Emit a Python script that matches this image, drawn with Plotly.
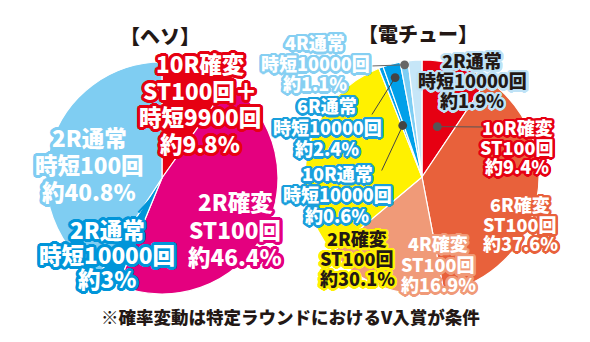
import math
import plotly.graph_objects as go

# ---------------- data ----------------
heso_labels = ["10R確変 ST100回＋時短9900回", "2R確変 ST100回", "2R通常 時短10000回", "2R通常 時短100回"]
heso_values = [9.8, 46.4, 3.0, 40.8]
heso_colors = ["#e60012", "#e4007f", "#0095d9", "#7fcdf2"]

den_labels = ["10R確変 ST100回", "6R確変 ST100回", "4R確変 ST100回", "2R確変 ST100回",
              "10R通常 時短10000回", "6R通常 時短10000回", "4R通常 時短10000回", "2R通常 時短10000回"]
den_values = [9.4, 37.6, 16.9, 30.1, 0.6, 2.4, 1.1, 1.9]
den_colors = ["#e60012", "#e8613b", "#f09a78", "#fff100",
              "#00a0e9", "#00a0e9", "#7ecef4", "#c6e6f8"]

title_heso = "【ヘソ】"
title_den = "【電チュー】"
footnote = "※確率変動は特定ラウンドにおけるV入賞が条件"

# text label lines
heso_text = [
    ["10R確変", "ST100回＋", "時短9900回", "約9.8%"],
    ["2R確変", "ST100回", "約46.4%"],
    ["2R通常", "時短10000回", "約3%"],
    ["2R通常", "時短100回", "約40.8%"],
]
den_text = [
    ["10R確変", "ST100回", "約9.4%"],
    ["6R確変", "ST100回", "約37.6%"],
    ["4R確変", "ST100回", "約16.9%"],
    ["2R確変", "ST100回", "約30.1%"],
    ["10R通常", "時短10000回", "約0.6%"],
    ["6R通常", "時短10000回", "約2.4%"],
    ["4R通常", "時短10000回", "約1.1%"],
    ["2R通常", "時短10000回", "約1.9%"],
]

W, H = 590, 342
FONT = "Noto Sans CJK JP, Noto Sans, sans-serif"
DARK = "#231815"
WEIGHT = 900

# pie geometry (pixels)
HC, HR = (162, 178), 116
DC, DR = (422, 177), 117


def dom(c, r):
    return dict(x=[(c[0] - r) / W, (c[0] + r) / W],
                y=[(H - c[1] - r) / H, (H - c[1] + r) / H])


fig = go.Figure()
fig.add_trace(go.Pie(values=heso_values, labels=heso_labels, sort=False, direction="clockwise",
                     rotation=0, marker=dict(colors=heso_colors, line=dict(color="white", width=1.2)),
                     textinfo="none", hoverinfo="label+percent", domain=dom(HC, HR), showlegend=False))
fig.add_trace(go.Pie(values=den_values, labels=den_labels, sort=False, direction="clockwise",
                     rotation=0, marker=dict(colors=den_colors, line=dict(color="white", width=1.2)),
                     textinfo="none", hoverinfo="label+percent", domain=dom(DC, DR), showlegend=False))

# hidden pixel axes for annotations
fig.add_trace(go.Scatter(x=[0, W], y=[0, H], mode="markers", marker=dict(opacity=0), hoverinfo="skip",
                         showlegend=False))


def outline(c, r):
    parts = []
    n = 20
    for k in range(n):
        a = 2 * math.pi * k / n
        parts.append(f"{r*math.cos(a):.2f}px {r*math.sin(a):.2f}px 0 {c}")
    for k in range(10):
        a = 2 * math.pi * k / 10
        parts.append(f"{r*0.55*math.cos(a):.2f}px {r*0.55*math.sin(a):.2f}px 0 {c}")
    return ", ".join(parts)


annotations = []


def add_label(lines, cx, y0, dy, size, color, oc, ow):
    for i, t in enumerate(lines):
        annotations.append(dict(x=cx, y=y0 + i * dy, xref="x", yref="y", text=t, showarrow=False,
                                xanchor="center", yanchor="middle",
                                font=dict(family=FONT, size=size, color=color, weight=WEIGHT,
                                          shadow=outline(oc, ow))))


def slice_point(values, idx, c, r, frac):
    tot = sum(values)
    start = sum(values[:idx]) / tot
    mid = (start + values[idx] / tot / 2) * 2 * math.pi
    return c[0] + frac * r * math.sin(mid), c[1] - frac * r * math.cos(mid)


def add_leader(values, idx, c, r, frac, tail, color=DARK, dot=True, width=1):
    px, py = slice_point(values, idx, c, r, frac)
    annotations.append(dict(x=px, y=py, xref="x", yref="y", ax=tail[0], ay=tail[1], axref="x", ayref="y",
                            text="", showarrow=True, arrowhead=6 if dot else 0, arrowsize=2.2 if dot else 1,
                            arrowwidth=width, arrowcolor=color, standoff=0, startstandoff=0))


# leaders first (under text)
add_leader(heso_values, 2, HC, HR, 0.2, (137, 214), color="#0095d9", dot=False, width=2)
add_leader(den_values, 0, DC, DR, 0.45, (484, 127), color="#555555")
add_leader(den_values, 4, DC, DR, 0.47, (381, 172), color="#444444")
add_leader(den_values, 5, DC, DR, 0.88, (371, 116), color="#444444")
add_leader(den_values, 6, DC, DR, 0.97, (371, 66), color="#666666")

# left pie labels
add_label(heso_text[0], 200, 63, 26.7, 22.5, "white", "#e60012", 3)
add_label(heso_text[1], 235, 201, 27.5, 22.5, "white", "#e4007f", 3)
add_label(heso_text[2], 107, 229, 24.5, 22.5, "white", "#0095d9", 3)
add_label(heso_text[3], 89, 137, 27, 22.5, "white", "#7fcdf2", 3)

# right pie labels
add_label(den_text[0], 517, 127, 19.5, 18, "white", "#e60012", 2.5)
add_label(den_text[1], 520, 204, 19.5, 18, "white", "#e8613b", 2.5)
add_label(den_text[2], 438, 243, 20.5, 18, "white", "#f09a78", 2.5)
add_label(den_text[3], 357, 238, 20, 18, DARK, "#fff100", 2.5)
add_label(den_text[4], 337, 173, 21, 18, "white", "#1a9fdc", 2.5)
add_label(den_text[5], 327, 105, 21.5, 18, "white", "#1a9fdc", 2.5)
add_label(den_text[6], 315, 42, 20.5, 18, "white", "#86cff2", 2.5)
add_label(den_text[7], 472, 60, 20, 18, DARK, "#bfe2f6", 2.5)

# titles and footnote
annotations.append(dict(x=160, y=35, xref="x", yref="y", text=title_heso, showarrow=False,
                        xanchor="center", yanchor="middle",
                        font=dict(family=FONT, size=20, color=DARK, weight=WEIGHT)))
annotations.append(dict(x=418, y=33, xref="x", yref="y", text=title_den, showarrow=False,
                        xanchor="center", yanchor="middle",
                        font=dict(family=FONT, size=20, color=DARK, weight=WEIGHT)))
annotations.append(dict(x=290, y=316, xref="x", yref="y", text=footnote, showarrow=False,
                        xanchor="center", yanchor="middle",
                        font=dict(family=FONT, size=17.5, color=DARK, weight=WEIGHT)))

fig.update_layout(
    width=W, height=H, margin=dict(l=0, r=0, t=0, b=0),
    paper_bgcolor="white", plot_bgcolor="rgba(0,0,0,0)",
    xaxis=dict(range=[0, W], visible=False, domain=[0, 1], fixedrange=True),
    yaxis=dict(range=[H, 0], visible=False, domain=[0, 1], fixedrange=True),
    annotations=annotations, showlegend=False,
)

fig.write_html("out.html", config={"displayModeBar": False})
